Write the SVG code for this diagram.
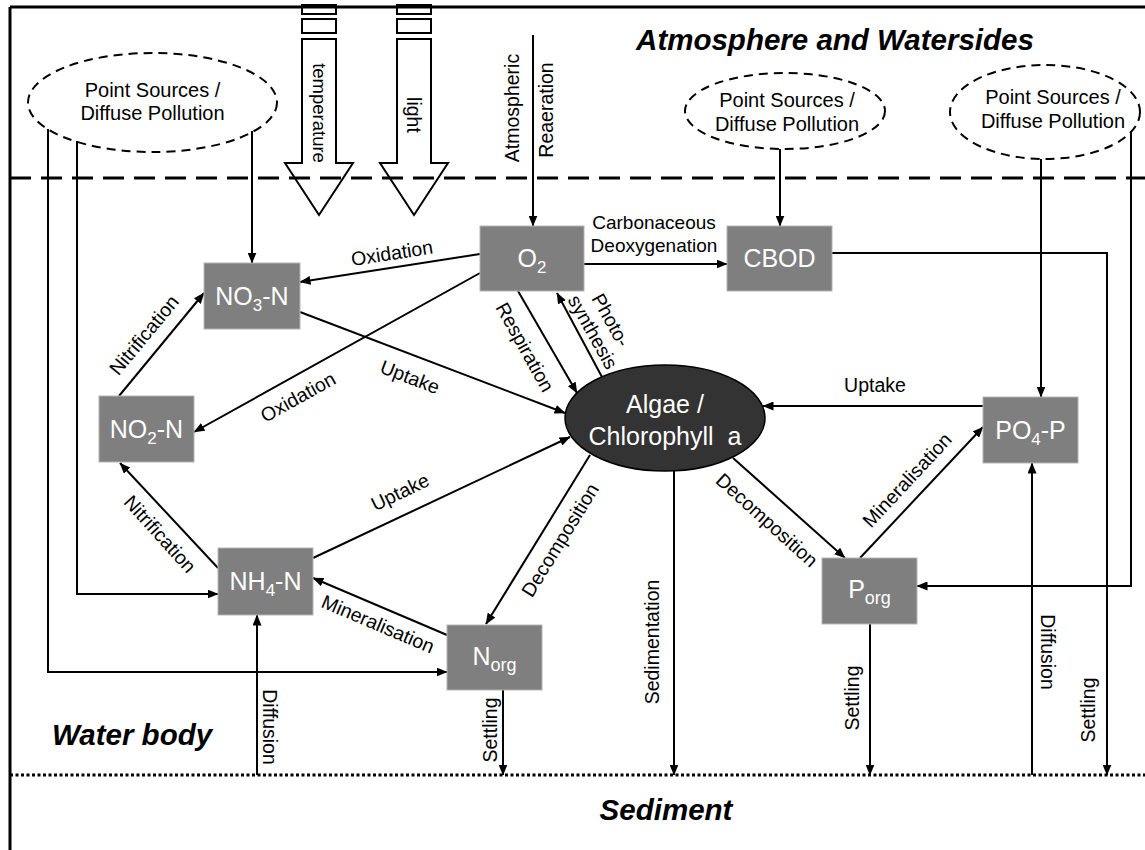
<svg xmlns="http://www.w3.org/2000/svg" width="1145" height="850" viewBox="0 0 1145 850">
  <style>
    .frame { stroke: #000; stroke-width: 3; fill: none; }
    .ln { stroke: #000; stroke-width: 2; fill: none; }
    .arr { stroke: #000; stroke-width: 2; fill: none; marker-end: url(#ah); }
    .src { fill: none; stroke: #000; stroke-width: 2; stroke-dasharray: 9 6; }
    .box { fill: #7f7f7f; stroke: #b5b5b5; stroke-width: 1; }
    .boxt { font-family: "Liberation Sans", Arial, sans-serif; font-size: 25px; fill: #fff; text-anchor: middle; }
    .lbl { font-family: "Liberation Sans", Arial, sans-serif; font-size: 19.5px; fill: #000; text-anchor: middle; }
    .srct { font-family: "Liberation Sans", Arial, sans-serif; font-size: 20px; fill: #000; text-anchor: middle; }
    .zone { font-family: "Liberation Sans", Arial, sans-serif; font-size: 29.5px; font-weight: bold; font-style: italic; fill: #000; }
    .blk { fill: none; stroke: #000; stroke-width: 2; }
  </style>
  <defs>
    <marker id="ah" markerUnits="userSpaceOnUse" markerWidth="11" markerHeight="9" refX="10.5" refY="4.5" orient="auto">
      <path d="M0,0 L11,4.5 L0,9 z" fill="#000"/>
    </marker>
  </defs>

  <rect width="1145" height="850" fill="#fff"/>

  <!-- zone boundaries -->
  <g id="zones">
    <line class="frame" x1="10" y1="7" x2="1145" y2="7"/>
    <line class="frame" x1="10" y1="7" x2="10" y2="850"/>
    <line x1="10" y1="178" x2="1145" y2="178" stroke="#000" stroke-width="3" stroke-dasharray="21 10"/>
    <line x1="10" y1="775" x2="1145" y2="775" stroke="#000" stroke-width="3" stroke-dasharray="3 2.5"/>
    <text class="zone" x="835" y="50" text-anchor="middle">Atmosphere and Watersides</text>
    <text class="zone" x="52" y="745">Water body</text>
    <text class="zone" x="666" y="820" text-anchor="middle">Sediment</text>
  </g>

  <!-- external drivers: temperature and light -->
  <g id="temperature">
    <rect class="blk" x="302" y="5" width="34" height="9"/>
    <rect class="blk" x="302" y="19" width="34" height="14"/>
    <path class="blk" d="M302,39 V163 H285 L319,215 L353,163 H336 V39 Z"/>
    <text class="lbl" transform="translate(319,113) rotate(90)" dy="0.35em" style="font-size:18.5px">temperature</text>
  </g>
  <g id="light">
    <rect class="blk" x="397" y="5" width="34" height="9"/>
    <rect class="blk" x="397" y="19" width="34" height="14"/>
    <path class="blk" d="M397,39 V163 H380 L414,215 L448,163 H431 V39 Z"/>
    <text class="lbl" transform="translate(414,115) rotate(90)" dy="0.35em">light</text>
  </g>

  <!-- pollution sources -->
  <g id="source-left">
    <ellipse class="src" cx="152.5" cy="102.5" rx="124.5" ry="49.5"/>
    <text class="srct" x="152.5" y="97">Point Sources /</text>
    <text class="srct" x="152.5" y="120">Diffuse Pollution</text>
  </g>
  <g id="source-middle">
    <ellipse class="src" cx="785" cy="111" rx="100" ry="38"/>
    <text class="srct" x="787" y="107">Point Sources /</text>
    <text class="srct" x="787" y="131">Diffuse Pollution</text>
  </g>
  <g id="source-right">
    <ellipse class="src" cx="1045" cy="112" rx="95" ry="47"/>
    <text class="srct" x="1053" y="104">Point Sources /</text>
    <text class="srct" x="1053" y="128">Diffuse Pollution</text>
  </g>

  <!-- connectors -->
  <g id="connectors">
    <path class="arr" d="M533,35 V226"/>
    <path class="arr" d="M780,149 V226"/>
    <path class="arr" d="M1041,159 V397"/>
    <path class="arr" d="M1131,132 V586 H917"/>
    <path class="arr" d="M252,131 V263"/>
    <path class="arr" d="M77,141 V594 H218"/>
    <path class="arr" d="M48,129 V672 H447"/>
    <path class="arr" d="M584,264 H727"/>
    <path class="arr" d="M480,254 L300,282"/>
    <path class="arr" d="M480,273 L194,432"/>
    <path class="arr" d="M300,312 L565,413"/>
    <path class="arr" d="M518,291 L577,393"/>
    <path class="arr" d="M602,377 L557,293"/>
    <path class="arr" d="M119,396 L204,293"/>
    <path class="arr" d="M218,568 L120,463"/>
    <path class="arr" d="M313,558 L570,437"/>
    <path class="arr" d="M447,635 L313,578"/>
    <path class="arr" d="M590,455 L486,624"/>
    <path class="arr" d="M674,471 V775"/>
    <path class="arr" d="M733,458 L845,558"/>
    <path class="arr" d="M860,558 L983,427"/>
    <path class="arr" d="M983,406 H763"/>
    <path class="arr" d="M257,775 V615"/>
    <path class="arr" d="M503,690 V775"/>
    <path class="arr" d="M870,624 V775"/>
    <path class="arr" d="M1032,775 V463"/>
    <path class="arr" d="M832,253 H1107 V775"/>

    <!-- process labels -->
    <text class="lbl" transform="translate(512,108) rotate(-90)" dy="0.35em">Atmospheric</text>
    <text class="lbl" transform="translate(546,110) rotate(-90)" dy="0.35em">Reaeration</text>
    <text class="lbl" x="654" y="229" style="font-size:19px">Carbonaceous</text>
    <text class="lbl" x="654" y="252" style="font-size:19px">Deoxygenation</text>
    <text class="lbl" transform="translate(392,253) rotate(-8.8)" dy="0.35em">Oxidation</text>
    <text class="lbl" transform="translate(298,397) rotate(-29)" dy="0.35em">Oxidation</text>
    <text class="lbl" transform="translate(144,335) rotate(-50.5)" dy="0.35em">Nitrification</text>
    <text class="lbl" transform="translate(410,377) rotate(21)" dy="0.35em">Uptake</text>
    <text class="lbl" transform="translate(525,347) rotate(61)" dy="0.35em">Respiration</text>
    <text class="lbl" transform="translate(611,320) rotate(61)" dy="0.35em">Photo-</text>
    <text class="lbl" transform="translate(593,332) rotate(61)" dy="0.35em">synthesis</text>
    <text class="lbl" x="875" y="392">Uptake</text>
    <text class="lbl" transform="translate(907,480) rotate(-47)" dy="0.35em">Mineralisation</text>
    <text class="lbl" transform="translate(767,520) rotate(42)" dy="0.35em">Decomposition</text>
    <text class="lbl" transform="translate(560,540) rotate(-58.4)" dy="0.35em">Decomposition</text>
    <text class="lbl" transform="translate(160,534) rotate(48)" dy="0.35em">Nitrification</text>
    <text class="lbl" transform="translate(400,492) rotate(-25.7)" dy="0.35em">Uptake</text>
    <text class="lbl" transform="translate(378,624) rotate(23)" dy="0.35em">Mineralisation</text>
    <text class="lbl" transform="translate(270,727) rotate(90)" dy="0.35em">Diffusion</text>
    <text class="lbl" transform="translate(490,730) rotate(-90)" dy="0.35em">Settling</text>
    <text class="lbl" transform="translate(652,642) rotate(-90)" dy="0.35em">Sedimentation</text>
    <text class="lbl" transform="translate(852,698) rotate(-90)" dy="0.35em">Settling</text>
    <text class="lbl" transform="translate(1048,652) rotate(90)" dy="0.35em">Diffusion</text>
    <text class="lbl" transform="translate(1088,710) rotate(-90)" dy="0.35em">Settling</text>
  </g>

  <!-- state variables -->
  <g id="node-o2">
    <rect class="box" x="480" y="226" width="104" height="65"/>
    <text class="boxt" x="532" y="267">O<tspan font-size="17" dy="6">2</tspan></text>
  </g>
  <g id="node-cbod">
    <rect class="box" x="727" y="226" width="105" height="65"/>
    <text class="boxt" x="779.5" y="267">CBOD</text>
  </g>
  <g id="node-no3">
    <rect class="box" x="204" y="263" width="96" height="66"/>
    <text class="boxt" x="252" y="305">NO<tspan font-size="17" dy="6">3</tspan><tspan dy="-6">-N</tspan></text>
  </g>
  <g id="node-no2">
    <rect class="box" x="99" y="396" width="95" height="66"/>
    <text class="boxt" x="146.5" y="438">NO<tspan font-size="17" dy="6">2</tspan><tspan dy="-6">-N</tspan></text>
  </g>
  <g id="node-nh4">
    <rect class="box" x="218" y="548" width="95" height="67"/>
    <text class="boxt" x="265.5" y="590">NH<tspan font-size="17" dy="6">4</tspan><tspan dy="-6">-N</tspan></text>
  </g>
  <g id="node-norg">
    <rect class="box" x="447" y="625" width="95" height="65"/>
    <text class="boxt" x="494.5" y="665">N<tspan font-size="18" dy="6">org</tspan></text>
  </g>
  <g id="node-porg">
    <rect class="box" x="822" y="558" width="95" height="66"/>
    <text class="boxt" x="869.5" y="598">P<tspan font-size="18" dy="6">org</tspan></text>
  </g>
  <g id="node-po4">
    <rect class="box" x="983" y="397" width="95" height="66"/>
    <text class="boxt" x="1030.5" y="439">PO<tspan font-size="17" dy="6">4</tspan><tspan dy="-6">-P</tspan></text>
  </g>
  <g id="node-algae">
    <ellipse cx="665" cy="418" rx="100" ry="53" fill="#333333" stroke="#000" stroke-width="1.5"/>
    <text class="boxt" x="665" y="413">Algae /</text>
    <text class="boxt" x="665" y="445" style="white-space:pre">Chlorophyll  a</text>
  </g>
</svg>
